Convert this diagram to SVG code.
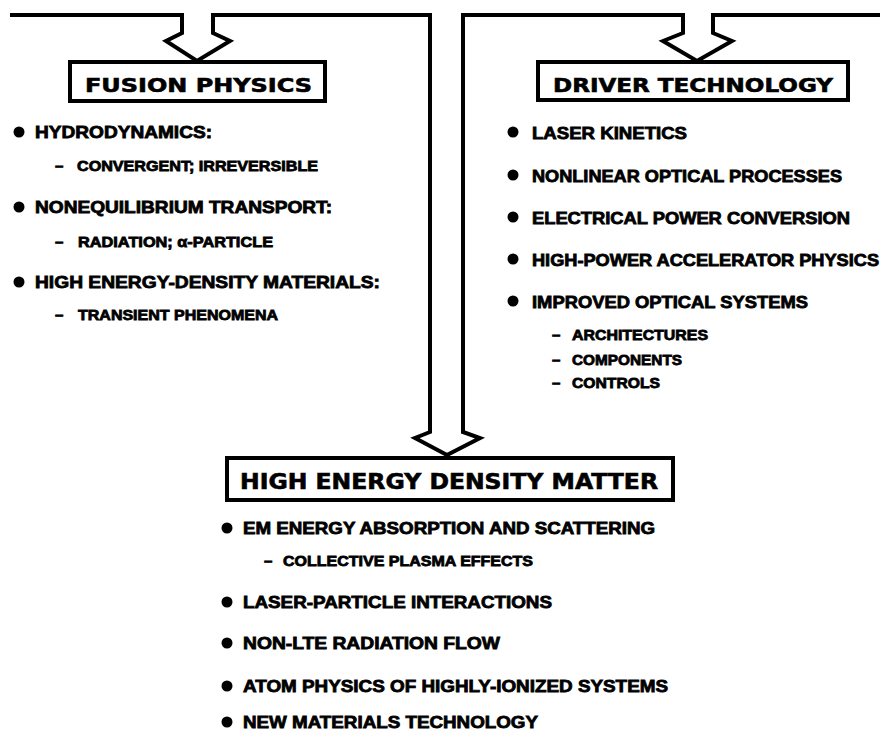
<svg xmlns="http://www.w3.org/2000/svg" width="880" height="734" viewBox="0 0 880 734">
<style>
.conn{fill:none;stroke:#000;stroke-width:4;stroke-linejoin:miter;stroke-linecap:butt}
.box{fill:#fff;stroke:#000;stroke-width:4}
.hdr{font-family:"DejaVu Sans","Liberation Sans",sans-serif;font-weight:bold;fill:#000;stroke:#000;stroke-width:0.6}
.t{font-family:"Liberation Sans",Arial,sans-serif;font-weight:bold;fill:#000;stroke:#000;stroke-width:0.8}
.m{font-size:17px}
.s{font-size:15px}
.b{fill:#000}
</style>
<rect width="880" height="734" fill="#fff"/>
<g id="connectors">
<path class="conn" d="M10,15 H182 V33 L166,41 L197,61 L230,41 L213,33 V15 H430 V432 L415,438 L447,455 L480,438 L463,432 V15 H683 V33 L663,41 L697,61 L732,41 L713,33 V15 H880"/>
</g>
<g id="fusion-physics">
<rect class="box" x="70" y="62" width="255" height="39"/>
<text class="hdr" x="85" y="92" font-size="19" textLength="227" lengthAdjust="spacingAndGlyphs">FUSION PHYSICS</text>
<circle class="b" cx="19" cy="132" r="5.5"/>
<text class="t m" x="35" y="138" textLength="177" lengthAdjust="spacingAndGlyphs">HYDRODYNAMICS:</text>
<text class="t s" x="55" y="171">–</text>
<text class="t s" x="77" y="171" textLength="241" lengthAdjust="spacingAndGlyphs">CONVERGENT; IRREVERSIBLE</text>
<circle class="b" cx="19" cy="207" r="5.5"/>
<text class="t m" x="35" y="213" textLength="297" lengthAdjust="spacingAndGlyphs">NONEQUILIBRIUM TRANSPORT:</text>
<text class="t s" x="55" y="247">–</text>
<text class="t s" x="78" y="247" textLength="195" lengthAdjust="spacingAndGlyphs">RADIATION; α-PARTICLE</text>
<circle class="b" cx="19" cy="282" r="5.5"/>
<text class="t m" x="35" y="288" textLength="345" lengthAdjust="spacingAndGlyphs">HIGH ENERGY-DENSITY MATERIALS:</text>
<text class="t s" x="55" y="320">–</text>
<text class="t s" x="78" y="320" textLength="200" lengthAdjust="spacingAndGlyphs">TRANSIENT PHENOMENA</text>
</g>
<g id="driver-technology">
<rect class="box" x="538" y="62" width="310" height="38"/>
<text class="hdr" x="553" y="92" font-size="19" textLength="280" lengthAdjust="spacingAndGlyphs">DRIVER TECHNOLOGY</text>
<circle class="b" cx="513" cy="132" r="5.5"/>
<text class="t m" x="532" y="139" textLength="155" lengthAdjust="spacingAndGlyphs">LASER KINETICS</text>
<circle class="b" cx="513" cy="175" r="5.5"/>
<text class="t m" x="532" y="182" textLength="310" lengthAdjust="spacingAndGlyphs">NONLINEAR OPTICAL PROCESSES</text>
<circle class="b" cx="513" cy="217" r="5.5"/>
<text class="t m" x="532" y="224" textLength="318" lengthAdjust="spacingAndGlyphs">ELECTRICAL POWER CONVERSION</text>
<circle class="b" cx="513" cy="259" r="5.5"/>
<text class="t m" x="532" y="266" textLength="347" lengthAdjust="spacingAndGlyphs">HIGH-POWER ACCELERATOR PHYSICS</text>
<circle class="b" cx="513" cy="301" r="5.5"/>
<text class="t m" x="532" y="308" textLength="276" lengthAdjust="spacingAndGlyphs">IMPROVED OPTICAL SYSTEMS</text>
<text class="t s" x="552" y="340">–</text>
<text class="t s" x="572" y="340" textLength="136" lengthAdjust="spacingAndGlyphs">ARCHITECTURES</text>
<text class="t s" x="552" y="365">–</text>
<text class="t s" x="572" y="365" textLength="110" lengthAdjust="spacingAndGlyphs">COMPONENTS</text>
<text class="t s" x="552" y="388">–</text>
<text class="t s" x="572" y="388" textLength="88" lengthAdjust="spacingAndGlyphs">CONTROLS</text>
</g>
<g id="high-energy-density-matter">
<rect class="box" x="227" y="458" width="446" height="42"/>
<text class="hdr" x="240" y="489" font-size="21" textLength="418" lengthAdjust="spacingAndGlyphs">HIGH ENERGY DENSITY MATTER</text>
<circle class="b" cx="227" cy="528" r="5.5"/>
<text class="t m" x="243" y="534" textLength="412" lengthAdjust="spacingAndGlyphs">EM ENERGY ABSORPTION AND SCATTERING</text>
<text class="t s" x="264" y="566">–</text>
<text class="t s" x="283" y="566" textLength="250" lengthAdjust="spacingAndGlyphs">COLLECTIVE PLASMA EFFECTS</text>
<circle class="b" cx="227" cy="602" r="5.5"/>
<text class="t m" x="243" y="608" textLength="309" lengthAdjust="spacingAndGlyphs">LASER-PARTICLE INTERACTIONS</text>
<circle class="b" cx="227" cy="643" r="5.5"/>
<text class="t m" x="243" y="649" textLength="257" lengthAdjust="spacingAndGlyphs">NON-LTE RADIATION FLOW</text>
<circle class="b" cx="227" cy="686" r="5.5"/>
<text class="t m" x="243" y="692" textLength="425" lengthAdjust="spacingAndGlyphs">ATOM PHYSICS OF HIGHLY-IONIZED SYSTEMS</text>
<circle class="b" cx="227" cy="722" r="5.5"/>
<text class="t m" x="243" y="728" textLength="295" lengthAdjust="spacingAndGlyphs">NEW MATERIALS TECHNOLOGY</text>
</g>
</svg>
